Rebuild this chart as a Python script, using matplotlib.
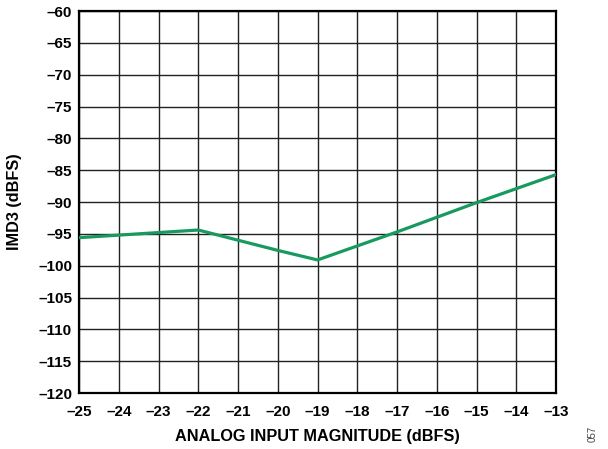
import matplotlib
matplotlib.use("Agg")
import matplotlib.pyplot as plt

x_vals = [-25, -24, -23, -22, -21, -20, -19, -18, -17, -16, -15, -14, -13]
imd3 = [-95.6, -95.2, -94.8, -94.4, -96.0, -97.6, -99.1, -96.9, -94.7, -92.4, -90.1, -87.9, -85.7]
x_ticks = list(range(-25, -12))
y_ticks = list(range(-120, -59, 5))

plt.rcParams['font.family'] = ['Liberation Sans', 'DejaVu Sans']
plt.rcParams['font.weight'] = 'bold'

fig = plt.figure(figsize=(6.08, 4.49), dpi=100)
ax = fig.add_axes([0.13, 0.1247, 0.7845, 0.8508])
ax.plot(x_vals, imd3, color='#17995f', lw=2.3, zorder=3, solid_joinstyle='miter')
ax.set_xlim(-25, -13)
ax.set_ylim(-120, -60)
ax.set_xticks(x_ticks)
ax.set_yticks(y_ticks)
ax.set_xticklabels([f"\u2013{abs(v)}" for v in x_ticks])
ax.set_yticklabels([f"\u2013{abs(v)}" for v in y_ticks])
ax.grid(True, color='#222222', lw=1.0)
ax.tick_params(length=0, labelsize=11, pad=5)
ax.tick_params(axis='x', pad=8.5)
for s in ax.spines.values():
    s.set_linewidth(1.6)
    s.set_color('black')
ax.set_xlabel("ANALOG INPUT MAGNITUDE (dBFS)", fontsize=11.7, fontweight='bold', labelpad=7.5)
ax.set_ylabel("IMD3 (dBFS)", fontsize=11.7, fontweight='bold', labelpad=11.5)
fig.text(0.975, 0.016, "057", rotation=90, fontsize=7, color='#444444', fontweight='normal', ha='center', va='bottom')
fig.savefig("out.png", dpi=100)
